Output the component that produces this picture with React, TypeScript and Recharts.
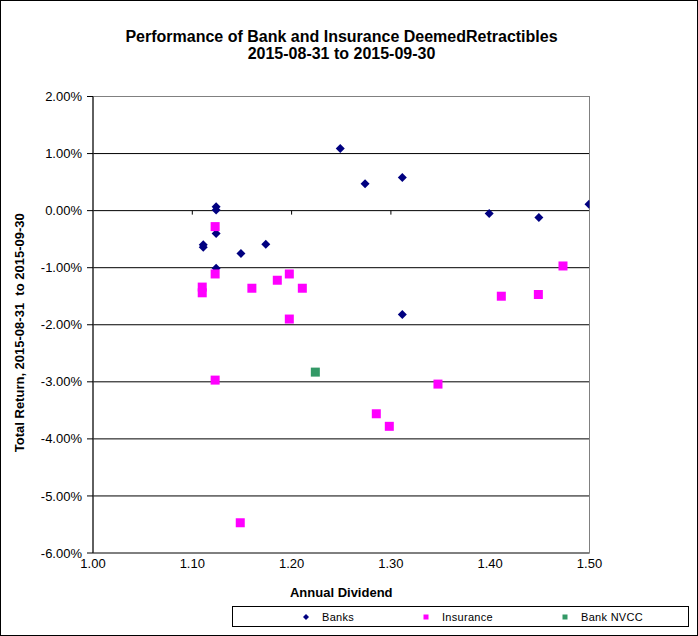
import React from 'react';
import {
  ScatterChart,
  Scatter,
  XAxis,
  YAxis,
  CartesianGrid,
  ReferenceLine,
  ReferenceArea,
  Legend,
  Label,
} from 'recharts';

// ---- Data (Annual Dividend vs Total Return %) ----
const bankDividends = [1.124, 1.124, 1.124, 1.124, 1.111, 1.111, 1.149, 1.174, 1.249, 1.274, 1.3115, 1.3115, 1.399, 1.449, 1.4995];
const bankReturns = [0.07, 0.01, -0.4, -1.01, -0.6, -0.64, -0.75, -0.59, 1.09, 0.47, 0.58, -1.82, -0.05, -0.12, 0.11];

const insuranceDividends = [1.123, 1.123, 1.123, 1.11, 1.11, 1.16, 1.1856, 1.1977, 1.1977, 1.2108, 1.3474, 1.2853, 1.2984, 1.1483, 1.4733, 1.4112, 1.4485];
const insuranceReturns = [-0.28, -1.11, -2.97, -1.34, -1.44, -1.36, -1.22, -1.11, -1.9, -1.36, -3.04, -3.56, -3.78, -5.47, -0.97, -1.5, -1.47];

const nvccDividends = [1.2239];
const nvccReturns = [-2.83];

const xTicks = [1.0, 1.1, 1.2, 1.3, 1.4, 1.5];
const yTicks = [2, 1, 0, -1, -2, -3, -4, -5, -6];
const zeroLineTicks = [1.1, 1.2, 1.3, 1.4];

const seriesNames = ['Banks', 'Insurance', 'Bank NVCC'];
const seriesColors = ['#000080', '#FF00FF', '#339966'];

const zip = (xs: number[], ys: number[]) => xs.map((x, i) => ({ x, y: ys[i] }));
const bankData = zip(bankDividends, bankReturns);
const insuranceData = zip(insuranceDividends, insuranceReturns);
const nvccData = zip(nvccDividends, nvccReturns);

const FONT = 'Arial, "Liberation Sans", sans-serif';

const Diamond = (props: any) => {
  const { cx, cy, fill } = props;
  const r = 4.5;
  return <polygon points={`${cx},${cy - r} ${cx + r},${cy} ${cx},${cy + r} ${cx - r},${cy}`} fill={fill} />;
};

const Square = (props: any) => {
  const { cx, cy, fill } = props;
  const r = 4.5;
  return <rect x={cx - r} y={cy - r} width={2 * r} height={2 * r} fill={fill} />;
};

const itemLefts = [70, 190, 329];

const LegendBox = (props: any) => {
  const payload = (props.payload || [])
    .slice()
    .sort((a: any, b: any) => seriesNames.indexOf(a.value) - seriesNames.indexOf(b.value));
  return (
    <div
      style={{
        position: 'relative',
        width: 457,
        height: 21,
        border: '1px solid #000',
        boxSizing: 'border-box',
        background: '#fff',
        fontFamily: FONT,
        fontSize: 11,
        color: '#000',
      }}
    >
      {payload.map((entry: any, i: number) => (
        <div
          key={entry.value}
          style={{
            position: 'absolute',
            left: itemLefts[i],
            top: 0,
            height: '100%',
            display: 'flex',
            alignItems: 'center',
            whiteSpace: 'nowrap',
          }}
        >
          <svg width={6} height={6} style={{ display: 'block' }}>
            {entry.value === seriesNames[0] ? (
              <polygon points="3,0 6,3 3,6 0,3" fill={entry.color} />
            ) : (
              <rect x={0.5} y={0.5} width={5} height={5} fill={entry.color} />
            )}
          </svg>
          <span style={{ marginLeft: 13, letterSpacing: 0.3 }}>{entry.value}</span>
        </div>
      ))}
    </div>
  );
};

const YLabel = (props: any) => {
  const { viewBox } = props;
  const cx = viewBox.x + 19.5;
  const cy = viewBox.y + viewBox.height / 2 + 8;
  return (
    <text
      x={cx}
      y={cy}
      transform={`rotate(-90, ${cx}, ${cy})`}
      textAnchor="middle"
      dominantBaseline="central"
      fontFamily={FONT}
      fontSize={13}
      fontWeight="bold"
      fill="#000"
      style={{ whiteSpace: 'pre' }}
    >
      {'Total Return, 2015-08-31  to 2015-09-30'}
    </text>
  );
};

export default function App() {
  return (
    <div
      style={{
        position: 'absolute',
        left: 0,
        top: 0,
        width: 698,
        height: 636,
        border: '1px solid #000',
        boxSizing: 'border-box',
        background: '#fff',
      }}
    >
      <div
        style={{
          position: 'absolute',
          left: 92,
          top: 27,
          width: 497,
          textAlign: 'center',
          fontFamily: FONT,
          fontSize: 16,
          fontWeight: 'bold',
          lineHeight: '17px',
          color: '#000',
          zIndex: 2,
        }}
      >
        <div>Performance of Bank and Insurance DeemedRetractibles</div>
        <div>2015-08-31 to 2015-09-30</div>
      </div>
      <div style={{ position: 'absolute', left: -1, top: -1 }}>
        <ScatterChart width={698} height={636} margin={{ top: 96.5, right: 108.5, bottom: 33, left: 0 }}>
          <CartesianGrid vertical={false} stroke="#000" strokeWidth={1} />
          <ReferenceArea x1={1.0} x2={1.5} y1={-6} y2={2} fill="none" stroke="#808080" strokeWidth={1} ifOverflow="extendDomain" />
          {zeroLineTicks.map((t) => (
            <ReferenceLine
              key={t}
              segment={[
                { x: t, y: 0 },
                { x: t, y: -0.07 },
              ]}
              stroke="#000"
              strokeWidth={1}
            />
          ))}
          <XAxis
            type="number"
            dataKey="x"
            domain={[1.0, 1.5]}
            ticks={xTicks}
            tickFormatter={(v: number) => v.toFixed(2)}
            axisLine={false}
            tickLine={false}
            tickSize={4}
            tickMargin={2}
            height={50}
            allowDataOverflow
            tick={{ fontFamily: FONT, fontSize: 13, fill: '#000' }}
          >
            <Label
              value="Annual Dividend"
              position="insideBottom"
              offset={6}
              style={{ fontFamily: FONT, fontSize: 13, fontWeight: 'bold', fill: '#000' }}
            />
          </XAxis>
          <YAxis
            type="number"
            dataKey="y"
            domain={[-6, 2]}
            ticks={yTicks}
            tickFormatter={(v: number) => v.toFixed(2) + '%'}
            axisLine={{ stroke: '#000' }}
            tickLine={{ stroke: '#000' }}
            tickSize={6}
            tickMargin={5}
            width={93}
            allowDataOverflow
            tick={{ fontFamily: FONT, fontSize: 13, fill: '#000' }}
          >
            <Label content={<YLabel />} />
          </YAxis>
          <Legend
            layout="vertical"
            align="center"
            verticalAlign="middle"
            itemSorter={null as any}
            content={<LegendBox />}
            wrapperStyle={{ left: 232, top: 606, width: 457, height: 21 }}
          />
          <Scatter name={seriesNames[0]} data={bankData} fill={seriesColors[0]} shape={<Diamond />} isAnimationActive={false} />
          <Scatter name={seriesNames[1]} data={insuranceData} fill={seriesColors[1]} shape={<Square />} isAnimationActive={false} />
          <Scatter name={seriesNames[2]} data={nvccData} fill={seriesColors[2]} shape={<Square />} isAnimationActive={false} />
        </ScatterChart>
      </div>
    </div>
  );
}
